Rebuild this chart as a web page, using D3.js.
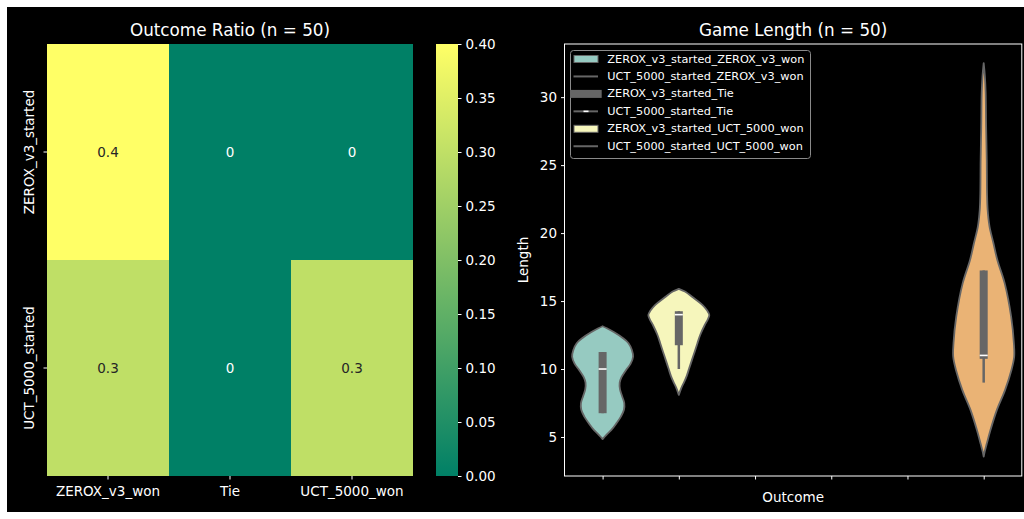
<!DOCTYPE html>
<html>
<head>
<meta charset="utf-8">
<script src="https://cdn.jsdelivr.net/npm/d3@7"></script>
<style>
  html, body { margin: 0; padding: 0; background: #ffffff; }
  svg { display: block; font-family: "DejaVu Sans", sans-serif; }
</style>
</head>
<body>
<svg id="chart" width="1024" height="519"></svg>
<script>
// ---- Outcome ratio heatmap ----
const startedLabels = ["ZEROX_v3_started", "UCT_5000_started"];
const wonLabels = ["ZEROX_v3_won", "Tie", "UCT_5000_won"];
const zeroxStartedRatios = [0.4, 0, 0];
const uctStartedRatios = [0.3, 0, 0.3];
const colorbarTicks = [0.00, 0.05, 0.10, 0.15, 0.20, 0.25, 0.30, 0.35, 0.40];

// ---- Game length violins ----
const outcomeLabels = [
  "ZEROX_v3_started_ZEROX_v3_won",
  "UCT_5000_started_ZEROX_v3_won",
  "ZEROX_v3_started_Tie",
  "UCT_5000_started_Tie",
  "ZEROX_v3_started_UCT_5000_won",
  "UCT_5000_started_UCT_5000_won"
];
const lengthTicks = [5, 10, 15, 20, 25, 30];

// density outlines: [length, relative width]
const zeroxWonDensity = [
  [13.15, 0], [13.0, 0.14], [12.7, 0.38], [12.3, 0.65], [11.9, 0.85], [11.4, 0.96],
  [10.9, 1.0], [10.4, 0.92], [9.9, 0.76], [9.4, 0.62], [9.0, 0.56], [8.5, 0.57],
  [8.0, 0.64], [7.5, 0.71], [7.0, 0.7], [6.5, 0.6], [6.0, 0.45], [5.5, 0.28],
  [5.2, 0.14], [4.95, 0.04], [4.85, 0]
];
const uctStartedZeroxWonDensity = [
  [15.9, 0], [15.7, 0.2], [15.2, 0.5], [14.7, 0.78], [14.3, 0.93], [13.97, 1.0],
  [13.6, 0.94], [13.24, 0.85], [12.5, 0.7], [11.9, 0.61], [11.27, 0.52],
  [10.6, 0.42], [10.05, 0.34], [9.5, 0.26], [9.07, 0.18], [8.6, 0.08], [8.1, 0]
];
const uctWonDensity = [
  [32.5, 0], [31.5, 0.04], [30.3, 0.065], [27.8, 0.08], [25.4, 0.1], [22.9, 0.11],
  [21.7, 0.13], [20.5, 0.19], [19.25, 0.32], [18.0, 0.45], [16.3, 0.69],
  [13.85, 0.9], [11.9, 0.99], [10.9, 1.0], [9.93, 0.91], [8.45, 0.7],
  [6.98, 0.43], [5.5, 0.22], [4.5, 0.1], [3.9, 0.03], [3.55, 0]
];
// [whisker low, q1, median, q3, whisker high]
const zeroxWonBox = [6.75, 6.75, 10, 11.25, 11.25];
const uctStartedZeroxWonBox = [10, 11.75, 14, 14.25, 14.25];
const uctWonBox = [9, 10.75, 11, 17.25, 17.25];

const set3 = ["#8dd3c7", "#ffffb3", "#bebada", "#fb8072", "#80b1d3", "#fdb462"];

// seaborn-style desaturation of the fill colours
function desaturate(c, prop) {
  const h = d3.hsl(c);
  h.s *= prop;
  return h.formatHex();
}

const violins = [
  { outcome: outcomeLabels[0], density: zeroxWonDensity, box: zeroxWonBox, color: desaturate(set3[0], 0.75) },
  { outcome: outcomeLabels[1], density: uctStartedZeroxWonDensity, box: uctStartedZeroxWonBox, color: desaturate(set3[1], 0.75) },
  { outcome: outcomeLabels[5], density: uctWonDensity, box: uctWonBox, color: desaturate(set3[5], 0.75) }
];

const svg = d3.select("#chart");
const TEXT = "#ffffff";
const GRAY = "#666666";
const FONT_TICK = "13.5px";

// figure background
svg.append("rect").attr("x", 7).attr("y", 7).attr("width", 1017).attr("height", 505).attr("fill", "#000");

// ================= Heatmap =================
const hm = { left: 47, right: 413, top: 44, bottom: 476 };
const summer = t => d3.rgb(255 * t, 255 * (0.5 + 0.5 * t), 0.4 * 255).formatHex();
const color = d3.scaleSequential(summer).domain([0, 0.4]);

const xH = d3.scaleBand().domain(wonLabels).range([hm.left, hm.right]);
const yH = d3.scaleBand().domain(startedLabels).range([hm.top, hm.bottom]);

const cells = [];
[zeroxStartedRatios, uctStartedRatios].forEach((row, i) => {
  row.forEach((v, j) => cells.push({ r: startedLabels[i], c: wonLabels[j], v }));
});

const gH = svg.append("g");
gH.selectAll("rect.cell").data(cells).join("rect")
  .attr("class", "cell")
  .attr("x", d => xH(d.c)).attr("y", d => yH(d.r))
  .attr("width", xH.bandwidth()).attr("height", yH.bandwidth())
  .attr("fill", d => color(d.v))
  .attr("shape-rendering", "crispEdges");

gH.selectAll("text.annot").data(cells).join("text")
  .attr("class", "annot")
  .attr("x", d => xH(d.c) + xH.bandwidth() / 2)
  .attr("y", d => yH(d.r) + yH.bandwidth() / 2)
  .attr("text-anchor", "middle").attr("dominant-baseline", "central")
  .attr("font-size", FONT_TICK)
  .attr("fill", d => d.v / 0.4 > 0.5 ? "#262626" : "#ffffff")
  .text(d => d3.format("~g")(d.v));

// x axis of heatmap
const axHX = gH.append("g").attr("transform", `translate(0,${hm.bottom})`)
  .call(d3.axisBottom(xH).tickSize(3.5).tickPadding(7));
axHX.select(".domain").remove();
axHX.selectAll("line").attr("stroke", TEXT);
axHX.selectAll("text").attr("fill", TEXT).attr("font-size", FONT_TICK).attr("font-family", "DejaVu Sans");

// y axis of heatmap (rotated labels)
const axHY = gH.append("g").attr("transform", `translate(${hm.left},0)`)
  .call(d3.axisLeft(yH).tickSize(3.5).tickPadding(5));
axHY.select(".domain").remove();
axHY.selectAll("line").attr("stroke", TEXT);
axHY.selectAll("text").attr("fill", TEXT).attr("font-size", FONT_TICK).attr("font-family", "DejaVu Sans")
  .attr("transform", "rotate(-90)")
  .attr("x", 0).attr("y", -13).attr("dy", "0")
  .attr("text-anchor", "middle");

svg.append("text").attr("x", (hm.left + hm.right) / 2).attr("y", 36)
  .attr("text-anchor", "middle").attr("font-size", "16.8px").attr("fill", TEXT)
  .text("Outcome Ratio (n = 50)");

// colorbar
const cb = { left: 436, right: 458, top: 44, bottom: 476 };
const defs = svg.append("defs");
const grad = defs.append("linearGradient").attr("id", "cbgrad")
  .attr("x1", 0).attr("y1", 1).attr("x2", 0).attr("y2", 0);
d3.range(0, 1.0001, 0.1).forEach(t => {
  grad.append("stop").attr("offset", t).attr("stop-color", color(t * 0.4));
});
svg.append("rect").attr("x", cb.left).attr("y", cb.top)
  .attr("width", cb.right - cb.left).attr("height", cb.bottom - cb.top)
  .attr("fill", "url(#cbgrad)");
const yCB = d3.scaleLinear().domain([0, 0.4]).range([cb.bottom, cb.top]);
const axCB = svg.append("g").attr("transform", `translate(${cb.right},0)`)
  .call(d3.axisRight(yCB).tickValues(colorbarTicks).tickFormat(d3.format(".2f")).tickSize(3.5).tickPadding(4));
axCB.select(".domain").remove();
axCB.selectAll("line").attr("stroke", TEXT);
axCB.selectAll("text").attr("fill", TEXT).attr("font-size", FONT_TICK).attr("font-family", "DejaVu Sans");

// ================= Violins =================
const vp = { left: 564.5, right: 1021.8, top: 44, bottom: 476 };
const xV = d3.scalePoint().domain(outcomeLabels).range([vp.left, vp.right]).padding(0.5);
const step = xV.step();
const yV = d3.scaleLinear().domain([2.13, 33.91]).range([vp.bottom, vp.top]);
const halfW = r => r * 0.4 * step;

const gV = svg.append("g");
violins.forEach(v => {
  const cx = xV(v.outcome);
  const area = d3.area()
    .y(d => yV(d[0]))
    .x0(d => cx - halfW(d[1]))
    .x1(d => cx + halfW(d[1]))
    .curve(d3.curveCatmullRom.alpha(0.5));
  gV.append("path").datum(v.density)
    .attr("d", area)
    .attr("fill", v.color)
    .attr("stroke", GRAY).attr("stroke-width", 1.8).attr("stroke-linejoin", "round");

  const [wlo, q1, med, q3, whi] = v.box;
  gV.append("line").attr("x1", cx).attr("x2", cx)
    .attr("y1", yV(wlo)).attr("y2", yV(whi))
    .attr("stroke", GRAY).attr("stroke-width", 2.5);
  gV.append("rect").attr("x", cx - 4).attr("width", 8)
    .attr("y", yV(q3)).attr("height", yV(q1) - yV(q3))
    .attr("fill", GRAY);
  gV.append("line").attr("x1", cx - 4).attr("x2", cx + 4)
    .attr("y1", yV(med)).attr("y2", yV(med))
    .attr("stroke", "#ffffff").attr("stroke-width", 1.6);
});

// spines
gV.append("rect").attr("x", vp.left).attr("y", vp.top)
  .attr("width", vp.right - vp.left).attr("height", vp.bottom - vp.top)
  .attr("fill", "none").attr("stroke", TEXT).attr("stroke-width", 1);

const axVY = svg.append("g").attr("transform", `translate(${vp.left},0)`)
  .call(d3.axisLeft(yV).tickValues(lengthTicks).tickSize(3.5).tickPadding(4));
axVY.select(".domain").remove();
axVY.selectAll("line").attr("stroke", TEXT);
axVY.selectAll("text").attr("fill", TEXT).attr("font-size", FONT_TICK).attr("font-family", "DejaVu Sans");

const axVX = svg.append("g").attr("transform", `translate(0,${vp.bottom})`)
  .call(d3.axisBottom(xV).tickSize(3.5).tickFormat(""));
axVX.select(".domain").remove();
axVX.selectAll("line").attr("stroke", TEXT);

svg.append("text").attr("transform", `translate(528,${(vp.top + vp.bottom) / 2}) rotate(-90)`)
  .attr("text-anchor", "middle").attr("font-size", FONT_TICK).attr("fill", TEXT).text("Length");
svg.append("text").attr("x", (vp.left + vp.right) / 2).attr("y", 502)
  .attr("text-anchor", "middle").attr("font-size", FONT_TICK).attr("fill", TEXT).text("Outcome");
svg.append("text").attr("x", (vp.left + vp.right) / 2).attr("y", 36)
  .attr("text-anchor", "middle").attr("font-size", "16.8px").attr("fill", TEXT)
  .text("Game Length (n = 50)");

// legend
const lg = svg.append("g").attr("transform", "translate(570,50)");
lg.append("rect").attr("x", 0.5).attr("y", 0.5).attr("width", 240).attr("height", 108)
  .attr("rx", 3).attr("fill", "#000").attr("stroke", "#8a8a8a").attr("stroke-width", 1);
const legendKinds = ["patch", "line", "box", "median", "patch", "line"];
const legendFills = [violins[0].color, null, GRAY, null, violins[1].color, null];
outcomeLabels.forEach((lab, i) => {
  const cy = 9 + i * 17.45;
  const row = lg.append("g").attr("transform", `translate(0,${cy})`);
  const kind = legendKinds[i];
  if (kind === "patch") {
    row.append("rect").attr("x", 4).attr("y", -3.5).attr("width", 24).attr("height", 7)
      .attr("fill", legendFills[i]).attr("stroke", GRAY).attr("stroke-width", 1);
  } else if (kind === "box") {
    row.append("rect").attr("x", 0).attr("y", -4).attr("width", 31.7).attr("height", 8).attr("fill", GRAY);
  } else {
    row.append("line").attr("x1", 3.5).attr("x2", 28).attr("y1", 0).attr("y2", 0)
      .attr("stroke", GRAY).attr("stroke-width", 2);
    if (kind === "median") {
      row.append("line").attr("x1", 13.5).attr("x2", 18.5).attr("y1", 0).attr("y2", 0)
        .attr("stroke", "#ffffff").attr("stroke-width", 1.6);
    }
  }
  row.append("text").attr("x", 37.3).attr("y", 0).attr("dominant-baseline", "central")
    .attr("font-size", "11.3px").attr("fill", TEXT).text(lab);
});
</script>
</body>
</html>
